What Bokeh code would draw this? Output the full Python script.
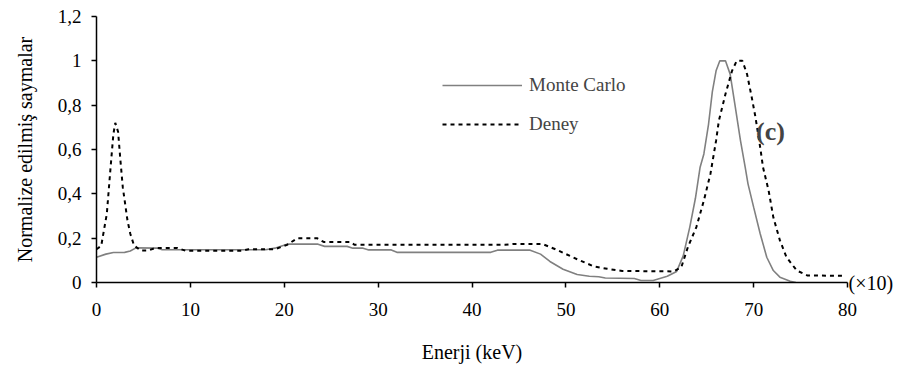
from bokeh.plotting import figure
from bokeh.models import (Legend, LegendItem, Label, FixedTicker, CustomJSTickFormatter,
                          LinearAxis)
from bokeh.embed import file_html
from bokeh.resources import INLINE

# ---- data ----
mc_x = [0, 1.0, 1.8, 3.0, 3.6, 4.2, 6.5, 7.0, 18.0, 19.0, 20.3, 23.6, 24.3, 26.7, 27.3,
        28.4, 29.0, 31.4, 32.0, 42.0, 42.7, 46.2, 47.3, 48.3, 49.7, 51.2, 52.5, 53.5,
        54.2, 57.3, 58.0, 59.3, 60.8, 61.8, 62.5, 63.2, 63.8, 64.3, 64.7, 65.2, 65.6,
        66.0, 66.4, 67.0, 67.5, 68.0, 68.6, 69.1, 69.4, 70.0, 70.7, 71.4, 72.1, 72.8,
        73.9, 74.5]
mc_y = [0.114, 0.128, 0.135, 0.136, 0.142, 0.156, 0.155, 0.148, 0.148, 0.155, 0.173,
        0.173, 0.163, 0.163, 0.155, 0.155, 0.147, 0.147, 0.136, 0.136, 0.146, 0.146,
        0.128, 0.095, 0.060, 0.036, 0.028, 0.026, 0.020, 0.018, 0.009, 0.009, 0.028,
        0.050, 0.120, 0.250, 0.380, 0.520, 0.580, 0.715, 0.860, 0.955, 1.0, 1.0, 0.94,
        0.805, 0.64, 0.52, 0.445, 0.34, 0.22, 0.114, 0.054, 0.024, 0.006, 0.0]

dn_x = [0, 0.5, 1.1, 1.5, 1.8, 2.0, 2.3, 2.55, 2.8, 3.3, 3.6, 4.0, 4.7, 5.5, 6.3, 8.6,
        9.5, 15.5, 16.2, 19.0, 20.3, 21.4, 23.5, 24.2, 27.0, 27.5, 43.5, 44.5, 47.5,
        49.0, 51.2, 53.0, 54.4, 56.0, 61.5, 62.3, 63.0, 63.9, 64.7, 65.4, 66.0, 66.3,
        67.0, 67.7, 68.2, 68.8, 69.3, 69.8, 70.2, 70.7, 71.0, 71.6, 72.1, 72.8, 73.5,
        74.6, 75.7, 79.5]
dn_y = [0.15, 0.165, 0.31, 0.52, 0.67, 0.72, 0.68, 0.55, 0.43, 0.28, 0.22, 0.167,
        0.144, 0.144, 0.156, 0.156, 0.143, 0.143, 0.15, 0.15, 0.17, 0.2, 0.2, 0.183,
        0.183, 0.17, 0.17, 0.174, 0.174, 0.148, 0.105, 0.072, 0.062, 0.052, 0.05,
        0.069, 0.16, 0.25, 0.37, 0.49, 0.64, 0.73, 0.85, 0.955, 1.0, 1.0, 0.94, 0.835,
        0.745, 0.61, 0.52, 0.414, 0.294, 0.19, 0.114, 0.054, 0.032, 0.03]

x_ticks = [0, 10, 20, 30, 40, 50, 60, 70, 80]
y_ticks = [0, 0.2, 0.4, 0.6, 0.8, 1.0, 1.2]
y_tick_labels = ["0", "0,2", "0,4", "0,6", "0,8", "1", "1,2"]

series_names = ["Monte Carlo", "Deney"]
x_title = "Enerji (keV)"
y_title = "Normalize edilmiş saymalar"
panel_label = "(c)"
scale_label = "(×10)"

FONT = "'Liberation Serif', 'Times New Roman', serif"

p = figure(width=912, height=375, output_backend="svg", toolbar_location=None,
           x_range=(0, 80), y_range=(0, 1.2),
           min_border_left=96, min_border_right=65, min_border_top=16,
           min_border_bottom=93)
p.outline_line_color = None
p.xgrid.grid_line_color = None
p.ygrid.grid_line_color = None
p.background_fill_color = "white"

r1 = p.line(mc_x, mc_y, line_color="#808080", line_width=1.6)
r2 = p.line(dn_x, dn_y, line_color="black", line_width=2, line_dash="4 4")

for ax in (p.xaxis[0], p.yaxis[0]):
    ax.axis_line_color = "black"
    ax.axis_line_width = 1.5
    ax.major_tick_line_color = "black"
    ax.major_tick_line_width = 1.5
    ax.major_tick_out = 5
    ax.major_tick_in = 0
    ax.minor_tick_line_color = None
    ax.major_label_text_font = FONT
    ax.major_label_text_font_size = "19px"
    ax.major_label_text_color = "black"
    ax.axis_label_text_font = FONT
    ax.axis_label_text_font_size = "20px"
    ax.axis_label_text_font_style = "normal"
    ax.axis_label_text_color = "black"

p.xaxis.ticker = FixedTicker(ticks=x_ticks)
p.yaxis.ticker = FixedTicker(ticks=y_ticks)
p.yaxis.formatter = CustomJSTickFormatter(
    args=dict(yt=y_ticks, yl=y_tick_labels),
    code="""
    let best = 0, d = 1e9;
    for (let i = 0; i < yt.length; i++) {
        const dd = Math.abs(yt[i] - tick);
        if (dd < d) { d = dd; best = i; }
    }
    return yl[best];
    """)
p.xaxis.major_label_standoff = 15
p.yaxis.major_label_standoff = 10
p.xaxis.axis_label = x_title
p.yaxis.axis_label = y_title
p.xaxis.axis_label_standoff = 22
p.yaxis.axis_label_standoff = 19

# "(x10)" note at the end of the x axis, drawn as a right-side axis tick label at y = 0
note_axis = LinearAxis(ticker=FixedTicker(ticks=[0]),
                       formatter=CustomJSTickFormatter(args=dict(s=scale_label),
                                                       code="return s;"))
note_axis.axis_line_color = None
note_axis.major_tick_line_color = None
note_axis.minor_tick_line_color = None
note_axis.major_tick_out = 0
note_axis.major_tick_in = 0
note_axis.major_label_standoff = 1
note_axis.major_label_text_font = FONT
note_axis.major_label_text_font_size = "20px"
note_axis.major_label_text_color = "black"
p.add_layout(note_axis, "right")

legend = Legend(items=[LegendItem(label=series_names[0], renderers=[r1]),
                       LegendItem(label=series_names[1], renderers=[r2])],
                location=(346, 147))
legend.glyph_width = 80
legend.glyph_height = 20
legend.label_height = 20
legend.label_standoff = 7
legend.spacing = 17
legend.padding = 0
legend.margin = 0
legend.border_line_color = None
legend.background_fill_alpha = 0
legend.label_text_font = FONT
legend.label_text_font_size = "19px"
p.add_layout(legend)

p.add_layout(Label(x=71.8, y=0.68, text=panel_label, text_font=FONT,
                   text_font_size="26px", text_font_style="bold",
                   text_align="center", text_baseline="middle"))

open("out.html", "w").write(file_html(p, INLINE))
